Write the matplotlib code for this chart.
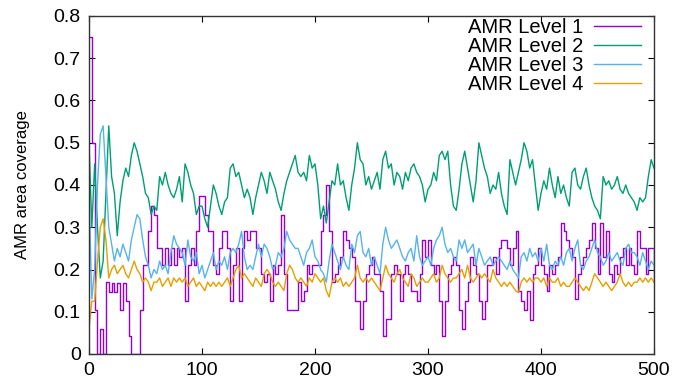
import numpy as np
import matplotlib
matplotlib.use("Agg")
from matplotlib import pyplot as plt
from matplotlib.ticker import FuncFormatter

plt.rcParams['font.family'] = ['Liberation Sans', 'DejaVu Sans']

# sample grid: one value every 2.5 steps, 0..500
steps = np.arange(0, 500.1, 2.5)

# AMR Level 1 (stepwise)
level1 = [0.75, 0.50, 0.104, 0.0, 0.06, 0.0, 0.17, 0.146, 0.167, 0.146, 0.167, 0.104, 0.167, 0.125, 0.042, 0.0, 0.0, 0.0, 0.104, 0.21,
          0.21, 0.29, 0.35, 0.33, 0.25, 0.25, 0.21, 0.25, 0.21, 0.25, 0.21, 0.25, 0.23, 0.25, 0.125, 0.21, 0.25, 0.21, 0.29, 0.375,
          0.375, 0.33, 0.29, 0.29, 0.21, 0.19, 0.25, 0.29, 0.29, 0.25, 0.125, 0.21, 0.25, 0.125, 0.25, 0.29, 0.27, 0.29, 0.29, 0.25,
          0.25, 0.19, 0.17, 0.19, 0.125, 0.21, 0.19, 0.21, 0.33, 0.19, 0.104, 0.104, 0.104, 0.104, 0.17, 0.125, 0.15, 0.21, 0.19, 0.21,
          0.21, 0.21, 0.29, 0.33, 0.40, 0.29, 0.17, 0.19, 0.21, 0.23, 0.29, 0.27, 0.25, 0.23, 0.125, 0.125, 0.06, 0.125, 0.19, 0.21,
          0.23, 0.19, 0.19, 0.15, 0.042, 0.083, 0.083, 0.19, 0.21, 0.19, 0.125, 0.19, 0.21, 0.19, 0.15, 0.15, 0.125, 0.19, 0.27, 0.23,
          0.27, 0.21, 0.19, 0.21, 0.125, 0.042, 0.125, 0.19, 0.21, 0.23, 0.21, 0.104, 0.06, 0.125, 0.17, 0.23, 0.21, 0.19, 0.125, 0.083,
          0.125, 0.21, 0.21, 0.23, 0.19, 0.25, 0.27, 0.27, 0.25, 0.21, 0.25, 0.29, 0.15, 0.125, 0.104, 0.15, 0.08, 0.19, 0.21, 0.25,
          0.21, 0.19, 0.15, 0.21, 0.19, 0.21, 0.23, 0.31, 0.29, 0.27, 0.25, 0.23, 0.13, 0.19, 0.21, 0.23, 0.25, 0.27, 0.31, 0.25,
          0.19, 0.31, 0.23, 0.29, 0.19, 0.17, 0.21, 0.19, 0.23, 0.25, 0.21, 0.25, 0.21, 0.19, 0.29, 0.25, 0.25, 0.19, 0.25, 0.25, 0.17]

level2 = [0.50, 0.30, 0.45, 0.30, 0.18, 0.22, 0.38, 0.54, 0.42, 0.38, 0.28, 0.36, 0.41, 0.44, 0.42, 0.47, 0.50, 0.48, 0.45, 0.42,
          0.38, 0.37, 0.33, 0.35, 0.34, 0.42, 0.40, 0.43, 0.40, 0.38, 0.37, 0.39, 0.42, 0.36, 0.45, 0.43, 0.40, 0.38, 0.33, 0.35,
          0.35, 0.32, 0.30, 0.35, 0.40, 0.38, 0.35, 0.33, 0.36, 0.37, 0.44, 0.45, 0.42, 0.43, 0.40, 0.37, 0.39, 0.37, 0.33, 0.37,
          0.40, 0.43, 0.41, 0.38, 0.43, 0.41, 0.39, 0.36, 0.34, 0.38, 0.41, 0.43, 0.45, 0.47, 0.43, 0.42, 0.43, 0.41, 0.47, 0.44,
          0.45, 0.40, 0.32, 0.35, 0.31, 0.36, 0.41, 0.40, 0.45, 0.40, 0.41, 0.37, 0.34, 0.40, 0.44, 0.50, 0.46, 0.45, 0.40, 0.42,
          0.39, 0.41, 0.43, 0.39, 0.46, 0.48, 0.44, 0.45, 0.40, 0.43, 0.42, 0.39, 0.43, 0.41, 0.44, 0.45, 0.43, 0.42, 0.40, 0.36,
          0.39, 0.40, 0.43, 0.41, 0.47, 0.48, 0.46, 0.48, 0.40, 0.35, 0.34, 0.39, 0.45, 0.48, 0.44, 0.40, 0.36, 0.41, 0.50, 0.47,
          0.44, 0.42, 0.38, 0.40, 0.39, 0.43, 0.38, 0.35, 0.33, 0.46, 0.43, 0.40, 0.43, 0.46, 0.50, 0.48, 0.44, 0.46, 0.40, 0.34,
          0.38, 0.41, 0.39, 0.44, 0.40, 0.37, 0.42, 0.38, 0.40, 0.37, 0.35, 0.43, 0.44, 0.40, 0.39, 0.42, 0.44, 0.40, 0.37, 0.35,
          0.34, 0.32, 0.42, 0.40, 0.41, 0.39, 0.40, 0.42, 0.39, 0.38, 0.40, 0.38, 0.37, 0.36, 0.34, 0.37, 0.36, 0.37, 0.42, 0.46, 0.44]

level3 = [0.38, 0.13, 0.20, 0.40, 0.52, 0.54, 0.42, 0.30, 0.26, 0.22, 0.25, 0.23, 0.26, 0.24, 0.22, 0.27, 0.30, 0.33, 0.32, 0.27,
          0.23, 0.21, 0.18, 0.20, 0.19, 0.22, 0.20, 0.21, 0.19, 0.24, 0.28, 0.26, 0.25, 0.24, 0.21, 0.27, 0.23, 0.22, 0.24, 0.19,
          0.21, 0.18, 0.20, 0.22, 0.24, 0.20, 0.22, 0.21, 0.23, 0.20, 0.24, 0.25, 0.24, 0.26, 0.29, 0.23, 0.20, 0.21, 0.20, 0.23,
          0.26, 0.23, 0.26, 0.25, 0.23, 0.20, 0.21, 0.24, 0.23, 0.25, 0.29, 0.27, 0.26, 0.25, 0.25, 0.23, 0.21, 0.24, 0.25, 0.27,
          0.23, 0.22, 0.20, 0.19, 0.17, 0.22, 0.26, 0.24, 0.22, 0.20, 0.23, 0.21, 0.20, 0.26, 0.24, 0.28, 0.29, 0.24, 0.23, 0.25,
          0.21, 0.23, 0.21, 0.19, 0.26, 0.30, 0.27, 0.25, 0.26, 0.27, 0.25, 0.23, 0.22, 0.24, 0.25, 0.22, 0.28, 0.23, 0.21, 0.22,
          0.23, 0.21, 0.25, 0.27, 0.28, 0.30, 0.26, 0.24, 0.25, 0.23, 0.22, 0.27, 0.25, 0.27, 0.24, 0.25, 0.26, 0.21, 0.25, 0.23,
          0.21, 0.22, 0.23, 0.21, 0.22, 0.23, 0.22, 0.21, 0.20, 0.22, 0.20, 0.19, 0.18, 0.23, 0.24, 0.22, 0.25, 0.23, 0.24, 0.22,
          0.25, 0.22, 0.26, 0.21, 0.20, 0.22, 0.21, 0.23, 0.21, 0.24, 0.25, 0.22, 0.25, 0.27, 0.21, 0.20, 0.22, 0.23, 0.25, 0.27,
          0.24, 0.23, 0.21, 0.22, 0.24, 0.22, 0.23, 0.24, 0.22, 0.21, 0.25, 0.26, 0.24, 0.24, 0.23, 0.21, 0.24, 0.22, 0.20, 0.22, 0.21]

level4 = [0.06, 0.125, 0.125, 0.22, 0.30, 0.32, 0.27, 0.18, 0.20, 0.21, 0.19, 0.20, 0.21, 0.19, 0.18, 0.20, 0.22, 0.20, 0.19, 0.17,
          0.18, 0.17, 0.15, 0.17, 0.17, 0.18, 0.16, 0.17, 0.18, 0.16, 0.18, 0.17, 0.18, 0.17, 0.18, 0.16, 0.17, 0.18, 0.16, 0.17,
          0.16, 0.15, 0.17, 0.16, 0.17, 0.16, 0.17, 0.16, 0.17, 0.18, 0.16, 0.18, 0.20, 0.21, 0.18, 0.19, 0.18, 0.17, 0.16, 0.18,
          0.17, 0.16, 0.19, 0.20, 0.19, 0.17, 0.16, 0.17, 0.16, 0.15, 0.19, 0.21, 0.20, 0.18, 0.17, 0.18, 0.17, 0.16, 0.18, 0.17,
          0.19, 0.18, 0.17, 0.18, 0.15, 0.135, 0.17, 0.18, 0.17, 0.18, 0.16, 0.17, 0.16, 0.17, 0.18, 0.21, 0.18, 0.17, 0.18, 0.17,
          0.18, 0.17, 0.16, 0.15, 0.18, 0.21, 0.19, 0.18, 0.17, 0.19, 0.20, 0.18, 0.17, 0.16, 0.19, 0.18, 0.16, 0.17, 0.18, 0.17,
          0.17, 0.18, 0.19, 0.17, 0.18, 0.21, 0.19, 0.18, 0.17, 0.18, 0.18, 0.19, 0.20, 0.18, 0.21, 0.18, 0.17, 0.18, 0.19, 0.18,
          0.19, 0.18, 0.17, 0.20, 0.18, 0.17, 0.16, 0.17, 0.16, 0.17, 0.16, 0.15, 0.145, 0.17, 0.18, 0.17, 0.18, 0.17, 0.18, 0.18,
          0.17, 0.18, 0.16, 0.18, 0.17, 0.17, 0.18, 0.16, 0.17, 0.16, 0.16, 0.17, 0.18, 0.17, 0.16, 0.15, 0.16, 0.15, 0.17, 0.19,
          0.18, 0.17, 0.16, 0.17, 0.16, 0.15, 0.16, 0.17, 0.19, 0.17, 0.16, 0.17, 0.16, 0.17, 0.17, 0.18, 0.17, 0.18, 0.17, 0.18, 0.17]

labels = ["AMR Level 1", "AMR Level 2", "AMR Level 3", "AMR Level 4"]
colors = ["#9400d3", "#009e73", "#56b4e9", "#e69f00"]

fig = plt.figure(figsize=(6.83, 3.83), dpi=100)
ax = fig.add_axes([89/683, 1 - 354/383, 565/683, 338/383])

ax.plot(steps, level1, color=colors[0], lw=1.0, drawstyle="steps-post", label=labels[0])
ax.plot(steps, level2, color=colors[1], lw=1.0, label=labels[1])
ax.plot(steps, level3, color=colors[2], lw=1.0, label=labels[2])
ax.plot(steps, level4, color=colors[3], lw=1.0, label=labels[3])

ax.set_xlim(0, 500)
ax.set_ylim(0, 0.8)
ax.set_xticks(np.arange(0, 501, 100))
ax.set_yticks(np.arange(0, 0.81, 0.1))
ax.yaxis.set_major_formatter(FuncFormatter(lambda v, p: "0" if abs(v) < 1e-9 else f"{v:.1f}"))
ax.tick_params(direction="in", length=4, width=0.8, top=True, right=True, labelsize=14, pad=6)
for s in ax.spines.values():
    s.set_linewidth(1.0)
    s.set_color("#333333")

ax.set_ylabel("AMR area coverage", fontsize=12)
ax.yaxis.set_label_coords(-0.105, 0.5)

ax.legend(loc="upper right", bbox_to_anchor=(0.985, 1.005), frameon=False, markerfirst=False,
          fontsize=14.5, handlelength=2.35, handletextpad=0.55, labelspacing=0.0,
          borderpad=0.2, borderaxespad=0)

fig.savefig("out.png", dpi=100)
